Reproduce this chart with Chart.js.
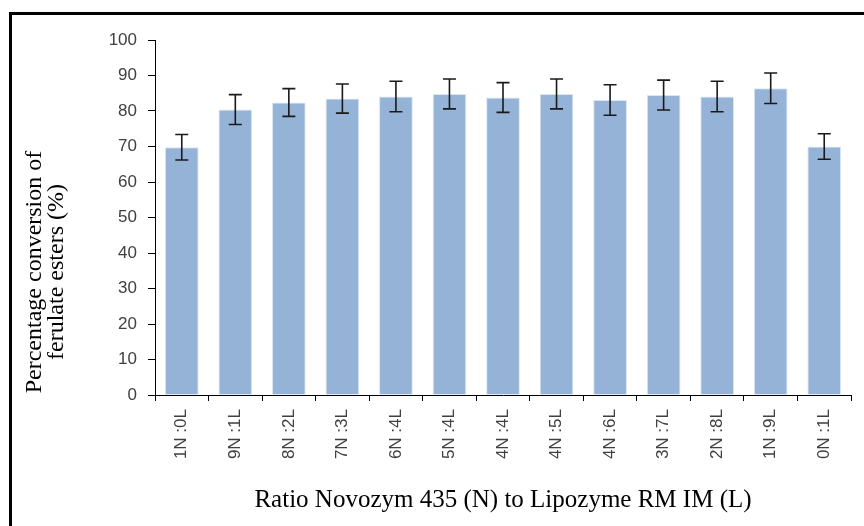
<!DOCTYPE html>
<html>
<head>
<meta charset="utf-8">
<script src="https://cdn.jsdelivr.net/npm/chart.js@4"></script>
<style>
    html, body {
        margin: 0;
        padding: 0;
        background: #fff;
    }

    .wrap {
        position: relative;
        width: 864px;
        height: 526px;
        overflow: hidden;
    }

    .frame {
        position: absolute;
        left: 9px;
        top: 12px;
        width: 900px;
        height: 600px;
        border-top: 3px solid #000;
        border-left: 3px solid #000;
        pointer-events: none;
    }
</style>
</head>
<body>
<div class="wrap">
    <canvas id="chart" width="864" height="526"></canvas>
    <div class="frame"></div>
</div>
<script>
const categories = ["1N :0L", "9N :1L", "8N :2L", "7N :3L", "6N :4L", "5N :4L", "4N :4L",
    "4N :5L", "4N :6L", "3N :7L", "2N :8L", "1N :9L", "0N :1L"];
const conversion = [69.8, 80.4, 82.4, 83.5, 84.1, 84.8, 83.8, 84.8, 83.1, 84.5, 84.1, 86.4, 70.0];
const errors = [3.6, 4.2, 3.9, 4.1, 4.3, 4.2, 4.2, 4.2, 4.3, 4.2, 4.3, 4.3, 3.6];
const yTicks = [0, 10, 20, 30, 40, 50, 60, 70, 80, 90, 100];
const yTitleLines = ["Percentage conversion of", "ferulate esters (%)"];

const errorBars = {
    id: "errorBars",
    afterDatasetsDraw(chart) {
        const { ctx } = chart;
        const yScale = chart.scales.y;
        const meta = chart.getDatasetMeta(0);

        ctx.save();
        ctx.strokeStyle = "#1a1a1a";
        ctx.lineWidth = 1.6;

        meta.data.forEach((bar, i) => {
            const top = yScale.getPixelForValue(conversion[i] + errors[i]);
            const bottom = yScale.getPixelForValue(conversion[i] - errors[i]);
            const half = 6.5;

            ctx.beginPath();
            ctx.moveTo(bar.x, top);
            ctx.lineTo(bar.x, bottom);
            ctx.moveTo(bar.x - half, top);
            ctx.lineTo(bar.x + half, top);
            ctx.moveTo(bar.x - half, bottom);
            ctx.lineTo(bar.x + half, bottom);
            ctx.stroke();
        });

        ctx.restore();
    }
};

// y title sits lower than the axis middle in the original, so draw it here
const yTitle = {
    id: "yTitle",
    afterDraw(chart) {
        const { ctx } = chart;

        ctx.save();
        ctx.fillStyle = "#000";
        ctx.font = "24px 'Liberation Serif'";
        ctx.textAlign = "center";
        ctx.textBaseline = "middle";
        ctx.translate(0, 272);
        ctx.rotate(-Math.PI / 2);
        yTitleLines.forEach((line, i) => {
            ctx.fillText(line, 0, 35 + i * 22);
        });
        ctx.restore();
    }
};

new Chart(document.getElementById("chart"), {
    type: "bar",
    data: {
        labels: categories,
        datasets: [
            {
                data: conversion,
                backgroundColor: "#95b3d7",
                borderColor: "#dce6f2",
                borderWidth: 1,
                categoryPercentage: 1,
                barPercentage: 0.63
            }
        ]
    },
    options: {
        responsive: false,
        devicePixelRatio: 1,
        animation: false,
        layout: {
            padding: { top: 40, right: 13, bottom: 0, left: 0 }
        },
        plugins: {
            legend: { display: false },
            tooltip: { enabled: false }
        },
        scales: {
            x: {
                afterFit(scale) {
                    scale.height = 131;
                },
                border: { display: true, color: "#000", width: 1 },
                grid: {
                    display: true,
                    drawOnChartArea: false,
                    drawTicks: true,
                    tickLength: 6,
                    color: "#000"
                },
                ticks: {
                    minRotation: 90,
                    maxRotation: 90,
                    padding: 8,
                    color: "#404040",
                    font: { family: "Liberation Sans", size: 17 }
                },
                title: {
                    display: true,
                    text: "Ratio Novozym 435 (N) to Lipozyme RM IM (L)",
                    color: "#000",
                    padding: { top: 0, bottom: 13 },
                    font: { family: "Liberation Serif", size: 25, lineHeight: 1 }
                }
            },
            y: {
                min: 0,
                max: 100,
                afterFit(scale) {
                    scale.width = 155;
                },
                afterBuildTicks(scale) {
                    scale.ticks = yTicks.map(value => ({ value }));
                },
                border: { display: true, color: "#000", width: 1 },
                grid: {
                    display: true,
                    drawOnChartArea: false,
                    drawTicks: true,
                    tickLength: 7,
                    color: "#000"
                },
                ticks: {
                    padding: 11,
                    color: "#404040",
                    font: { family: "Liberation Sans", size: 17 }
                }
            }
        }
    },
    plugins: [errorBars, yTitle]
});
</script>
</body>
</html>
